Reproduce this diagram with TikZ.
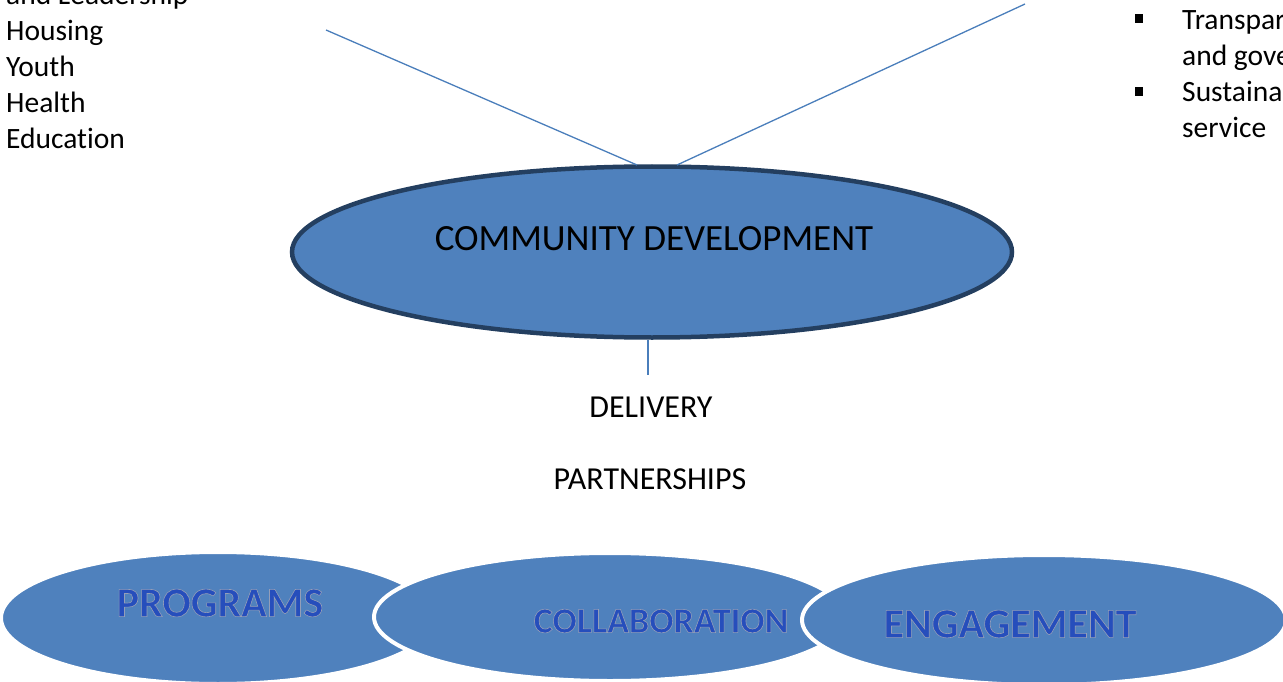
\documentclass[tikz,border=0pt]{standalone}
\usepackage{fontspec}
\setmainfont[Ligatures=NoCommon]{Carlito}
\usetikzlibrary{shapes.geometric}
\definecolor{fillblue}{HTML}{4F81BD}
\definecolor{navy}{HTML}{243F60}
\definecolor{lineblue}{HTML}{4A7EBB}
\definecolor{gloss}{RGB}{38,78,188}
\newcommand\glossy[1]{\special{pdf:literal direct 2 Tr 0.6 w 0.58 0.62 0.72 RG}#1\special{pdf:literal direct 0 Tr}}
\tikzset{
  plain/.style={font=\fontsize{29.5}{36}\selectfont, inner sep=0pt, text=black},
  mid/.style={font=\fontsize{32}{38}\selectfont, inner sep=0pt, text=black},
  conn/.style={draw=lineblue, line width=1.3pt},
  mainell/.style={ellipse, fill=fillblue, draw=navy, line width=4.5pt, inner sep=0pt},
  subell/.style={ellipse, fill=fillblue, draw=white, line width=4pt, inner sep=0pt},
  glosstext/.style={inner sep=0pt, text=gloss},
  bulletsq/.style={fill=black, minimum width=8pt, minimum height=9pt, inner sep=0pt}
}
\begin{document}
\begin{tikzpicture}[x=1pt,y=-1pt]
\useasboundingbox (0,0) rectangle (1283,682);

% left list
\node[plain, anchor=base west] (t0) at (6,5) {and Leadership};
\node[plain, anchor=base west] (t1) at (6,41) {Housing};
\node[plain, anchor=base west] (t2) at (6,77) {Youth};
\node[plain, anchor=base west] (t3) at (6,113) {Health};
\node[plain, anchor=base west] (t4) at (6,149) {Education};

% right list
\node[bulletsq] (b1) at (1139,19) {};
\node[bulletsq] (b2) at (1139,92) {};
\node[plain, anchor=base west] (r1) at (1182,30) {Transparency};
\node[plain, anchor=base west] (r2) at (1182,66) {and governance};
\node[plain, anchor=base west] (r3) at (1182,102) {Sustainable};
\node[plain, anchor=base west] (r4) at (1182,138) {service};

% central ellipse
\node[mainell, minimum width=720pt, minimum height=171pt] (cd) at (652,252) {};
\node[font=\fontsize{37}{44}\selectfont, inner sep=0pt, anchor=base] (cdt) at (654,250) {COMMUNITY DEVELOPMENT};

% connectors
\coordinate (la) at (326,30);
\coordinate (ra) at (1025,4);
\coordinate (lb) at (637,165);
\coordinate (rb) at (677,165);
\coordinate (bt) at (648,340);
\coordinate (bb) at (648,375);
\draw[conn] (la) -- (lb);
\draw[conn] (ra) -- (rb);
\draw[conn] (bt) -- (bb);

\node[mid, anchor=base] (del) at (651,417) {DELIVERY};
\node[mid, anchor=base] (par) at (650,489) {PARTNERSHIPS};

% bottom ellipses
\node[subell, minimum width=434pt, minimum height=132pt] (pe) at (218,618) {};
\node[subell, minimum width=472pt, minimum height=128pt] (ce) at (610,617) {};
\node[subell, minimum width=484pt, minimum height=130pt] (ee) at (1044,620) {};
\node[glosstext, font=\bfseries\fontsize{42}{50}\selectfont] (pt) at (220,603) {\glossy{PROGRAMS}};
\node[glosstext, font=\bfseries\fontsize{36}{44}\selectfont] (ct) at (661,621) {\glossy{COLLABORATION}};
\node[glosstext, font=\bfseries\fontsize{42}{50}\selectfont] (et) at (1010,624) {\glossy{ENGAGEMENT}};
\end{tikzpicture}
\end{document}
